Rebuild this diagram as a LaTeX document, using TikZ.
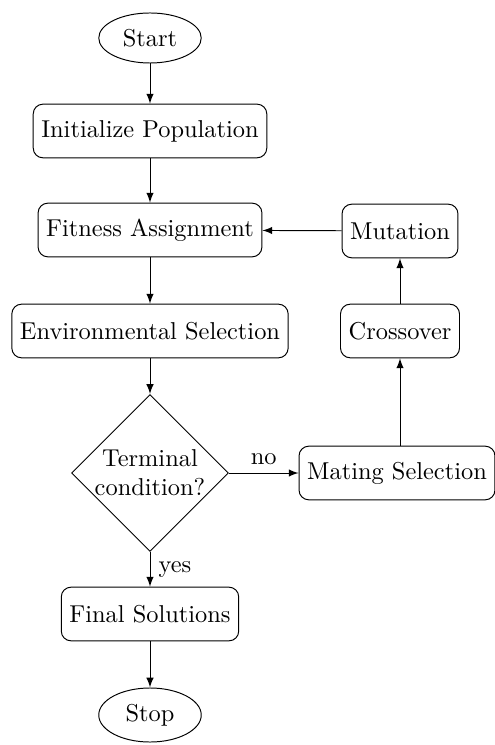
\documentclass[tikz,border=0pt]{standalone}
\usetikzlibrary{shapes.geometric,arrows}
\begin{document}
\begin{tikzpicture}[x=0.4098pt,y=-0.4098pt,
  terminator/.style={ellipse,draw,minimum width=42pt,minimum height=20.5pt},
  block/.style={rectangle,draw,rounded corners,minimum height=22pt},
  decision/.style={diamond,draw,align=center,inner sep=0pt},
  flow/.style={draw,-latex}]
\useasboundingbox (0,0) rectangle (494,745);
% main column
\node[terminator] (start) at (150,38) {Start};
\node[block] (init) at (150,131) {Initialize Population};
\node[block] (fit) at (150,230) {Fitness Assignment};
\node[block] (env) at (150,331) {Environmental Selection};
\node[decision] (cond) at (150,473) {Terminal\\condition?};
\node[block] (final) at (150,614) {Final Solutions};
\node[terminator] (stop) at (150,715) {Stop};
% variation loop
\node[block] (mate) at (397,473) {Mating Selection};
\node[block] (cross) at (400,331) {Crossover};
\node[block] (mut) at (400,231) {Mutation};
% connectors
\draw[flow] (start) -- (init);
\draw[flow] (init) -- (fit);
\draw[flow] (fit) -- (env);
\draw[flow] (env) -- (cond);
\draw[flow] (cond) -- node[right] {yes} (final);
\draw[flow] (final) -- (stop);
\draw[flow] (cond) -- node[above] {no} (mate);
\draw[flow] (mate.north -| cross.south) -- (cross.south);
\draw[flow] (cross) -- (mut);
\draw[flow] (mut) -- (fit);
\end{tikzpicture}
\end{document}
